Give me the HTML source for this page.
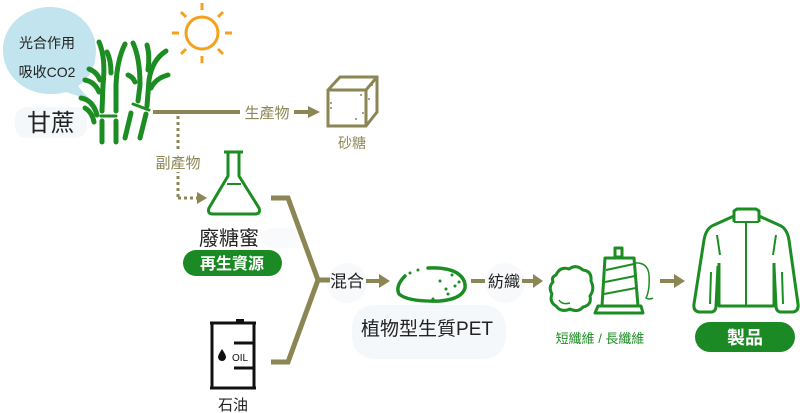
<!DOCTYPE html>
<html><head><meta charset="utf-8"><style>
html,body{margin:0;padding:0;background:#fff;}
svg{display:block;}
text{font-family:"Liberation Sans","Noto Sans CJK TC",sans-serif;}
</style></head><body>
<svg width="800" height="413" viewBox="0 0 800 413" xmlns="http://www.w3.org/2000/svg">
<!-- faint label backgrounds -->
<rect x="15" y="107" width="72" height="31" rx="12" fill="#f4f8fa"/>
<circle cx="347" cy="283" r="20" fill="#f7f9fb"/>
<circle cx="505" cy="283" r="20" fill="#f7f9fb"/>
<rect x="352" y="305" width="154" height="54" rx="22" fill="#f5f8fb"/>
<rect x="262" y="228" width="40" height="20" rx="10" fill="#f8fafc"/>

<!-- bubble -->
<path d="M50,7 C76,7 96,26 96,50 C96,68 88,80 78,86 L90,100 L66,92 C60,94 55,94 50,94 C24,94 3,75 3,50 C3,26 24,7 50,7 Z" fill="#c2e4ef"/>
<text x="47" y="48" font-size="14" text-anchor="middle" fill="#222">光合作用</text>
<text x="47" y="77" font-size="14" text-anchor="middle" fill="#222">吸收CO2</text>
<text x="51" y="131" font-size="24" text-anchor="middle" fill="#222">甘蔗</text>

<!-- sun -->
<g stroke="#f4a11e" stroke-width="3" fill="none">
<circle cx="202" cy="33" r="16"/>
<line x1="202" y1="3" x2="202" y2="10"/>
<line x1="202" y1="56" x2="202" y2="63"/>
<line x1="172" y1="33" x2="179" y2="33"/>
<line x1="225" y1="33" x2="232" y2="33"/>
<line x1="181" y1="12" x2="186" y2="17"/>
<line x1="218" y1="49" x2="223" y2="54"/>
<line x1="181" y1="54" x2="186" y2="49"/>
<line x1="218" y1="17" x2="223" y2="12"/>
</g>

<!-- sugarcane -->
<g stroke="#1c8d22" stroke-width="5" fill="none" stroke-linecap="round">
<path d="M99,42 Q106,58 103,85 L102,111"/>
<path d="M125,44 Q117,60 116,85 L116,111"/>
<path d="M107,52 Q111,60 111,73"/>
<path d="M101,116 L116,116" stroke-width="3"/>
<path d="M102,121 L102,142"/>
<path d="M116,121 L116,142"/>
<path d="M89,69 Q97,72 100,80"/>
<path d="M85,80 Q95,82 99,92"/>
<path d="M81,98 Q93,100 97,115"/>
<path d="M85,108 Q92,112 94,122"/>
<path d="M133,43 Q140,58 140,85 L138,101"/>
<path d="M147,45 Q150,55 148,70"/>
<path d="M166,51 Q152,60 149,80 L147,106"/>
<path d="M168,75 Q156,78 151,88"/>
<path d="M128,75 Q133,77 135,82"/>
<path d="M133,104 L149,110" stroke-width="3"/>
<path d="M131,113 L125,138"/>
<path d="M146,114 L140,138"/>
</g>

<!-- main product line -->
<g stroke="#8b8654" fill="#8b8654">
<line x1="153" y1="112" x2="240" y2="112" stroke-width="4"/>
<line x1="294" y1="112" x2="310" y2="112" stroke-width="4"/>
<polygon points="308,106 320,112 308,118" stroke="none"/>
<line x1="178" y1="116" x2="178" y2="198" stroke-width="3" stroke-dasharray="3,3"/>
<line x1="178" y1="198" x2="200" y2="198" stroke-width="3" stroke-dasharray="3,3"/>
<polygon points="197,192 207,198 197,204" stroke="none"/>
</g>
<text x="267" y="118" font-size="15" text-anchor="middle" fill="#8b8654">生產物</text>
<rect x="150" y="152" width="56" height="20" fill="#fff"/>
<text x="178" y="168" font-size="15" text-anchor="middle" fill="#8b8654">副產物</text>

<!-- sugar cube -->
<g stroke="#8b8654" stroke-width="3" fill="none">
<path d="M328,90 L340,77 L377,77 L377,112 L366,126 L328,126 Z"/>
<path d="M328,90 L366,90 L377,77"/>
<path d="M366,90 L366,126"/>
</g>
<g fill="#8b8654">
<circle cx="331" cy="103" r="1"/><circle cx="331" cy="108" r="1"/>
<circle cx="361" cy="95" r="1"/><circle cx="363" cy="113" r="1"/><circle cx="356" cy="119" r="1"/><circle cx="372" cy="85" r="1"/><circle cx="369" cy="99" r="1"/>
</g>
<text x="352" y="148" font-size="14" text-anchor="middle" fill="#8b8654">砂糖</text>

<!-- flask -->
<g stroke="#1c8d22" stroke-width="3" fill="none" stroke-linejoin="round">
<line x1="224" y1="152" x2="243" y2="152"/>
<path d="M228,153 L228,176 L209,208 Q207,214 213,214 L255,214 Q261,214 259,208 L239,176 L239,153"/>
<line x1="227" y1="184" x2="241" y2="184" stroke-width="2"/>
</g>
<text x="229" y="245" font-size="20" text-anchor="middle" fill="#222">廢糖蜜</text>
<rect x="183" y="250" width="99" height="26" rx="13" fill="#1c8a24"/>
<text x="232" y="269" font-size="16" font-weight="bold" text-anchor="middle" fill="#fff">再生資源</text>

<!-- oil barrel -->
<g stroke="#111" stroke-width="3" fill="none">
<line x1="210" y1="323" x2="256" y2="323"/>
<line x1="210" y1="388" x2="256" y2="388"/>
<line x1="212" y1="323" x2="212" y2="388"/>
<line x1="254" y1="323" x2="254" y2="388"/>
<line x1="234" y1="343" x2="254" y2="343"/>
<line x1="234" y1="368" x2="254" y2="368"/>
</g>
<rect x="236" y="319" width="8" height="4" fill="#111"/>
<path d="M222,349 Q218,355 218,357 A4,4 0 0 0 226,357 Q226,355 222,349 Z" fill="#111"/>
<text x="240" y="361" font-size="10" text-anchor="middle" fill="#111">OIL</text>
<text x="233" y="410" font-size="15" text-anchor="middle" fill="#222">石油</text>

<!-- bracket -->
<g stroke="#8b8654" stroke-width="5" fill="none" stroke-linejoin="miter">
<path d="M271,198 L288,198 L318,280 L288,362 L271,362"/>
<line x1="318" y1="280" x2="330" y2="280"/>
</g>
<text x="347" y="287" font-size="17" text-anchor="middle" fill="#222">混合</text>
<g fill="#8b8654">
<rect x="366" y="279" width="16" height="4"/>
<polygon points="379,274 390,281 379,288"/>
<rect x="471" y="279" width="14" height="4"/>
<rect x="522" y="279" width="13" height="4"/>
<polygon points="533,274 543,281 533,288"/>
<rect x="660" y="279" width="16" height="4"/>
<polygon points="674,274 685,281 674,288"/>
</g>

<!-- PET blob -->
<g stroke="#1c8d22" stroke-width="3.5" fill="none" stroke-linecap="round">
<path d="M405,276 Q395,286 399,294 Q408,302 440,301 Q462,299 465,288 Q466,279 457,273 Q447,267 428,268"/>
</g>
<g fill="#1c8d22">
<circle cx="410" cy="273" r="1.5"/><circle cx="418" cy="270" r="1.5"/><circle cx="440" cy="281" r="1.5"/><circle cx="446" cy="289" r="1.5"/><circle cx="455" cy="286" r="1.5"/><circle cx="459" cy="282" r="1.5"/><circle cx="448" cy="294" r="1.5"/><circle cx="433" cy="299" r="1.5"/><circle cx="452" cy="275" r="1.5"/>
</g>
<text x="427" y="335" font-size="19" text-anchor="middle" fill="#222">植物型生質PET</text>
<text x="504" y="287" font-size="16" text-anchor="middle" fill="#222">紡織</text>

<!-- cotton ball -->
<g stroke="#1c8d22" stroke-width="3" fill="none" stroke-linejoin="round">
<path d="M556,275 Q560,266 569,269 Q576,264 583,270 Q592,271 591,281 Q595,289 590,296 Q592,305 583,307 Q578,313 570,309 Q561,313 556,306 Q549,302 552,294 Q548,287 553,282 Q551,277 556,275 Z"/>
<path d="M559,300 Q562,305 570,303" stroke-width="1.5"/>
</g>
<!-- spool -->
<g stroke="#1c8d22" stroke-width="3" fill="none" stroke-linejoin="round">
<rect x="615" y="248" width="7" height="9"/>
<path d="M605,258 L634,258 L638,306 L602,306 Z"/>
<path d="M598,306 L641,306 L643,313 L595,313 Z"/>
<path d="M606,270 L634,264 M605,282 L635,276 M604,294 L636,288" stroke-width="2"/>
<path d="M634,263 Q648,262 649,275 Q650,290 646,298 Q650,300 653,298" stroke-width="1.5"/>
</g>
<text x="600" y="343" font-size="13" text-anchor="middle" fill="#1c8d22">短纖維 / 長纖維</text>

<!-- jacket -->
<g stroke="#1c8d22" stroke-width="3" fill="none" stroke-linejoin="round">
<path d="M734,222 L734,211 L737,209 L756,209 L759,211 L759,222"/>
<path d="M734,216 L714,225 Q706,228 704,240 L694,304 Q693,311 699,312 L712,312 Q716,311 716,306 L718,266"/>
<path d="M759,216 L779,225 Q787,228 789,240 L798,304 Q799,311 793,312 L780,312 Q776,311 776,306 L774,266"/>
<path d="M719,263 L719,306 L774,306 L774,263"/>
<line x1="746" y1="222" x2="746" y2="306" stroke-width="2"/>
<line x1="734" y1="222" x2="759" y2="222" stroke-width="2"/>
<path d="M711,272 L710,304" stroke-width="2"/>
<path d="M782,272 L783,304" stroke-width="2"/>
<path d="M717,235 L720,255" stroke-width="2"/>
<path d="M776,235 L773,255" stroke-width="2"/>
</g>
<rect x="695" y="322" width="100" height="30" rx="15" fill="#1c8a24"/>
<text x="745" y="344" font-size="18" font-weight="bold" text-anchor="middle" fill="#fff">製品</text>
</svg>
</body></html>
